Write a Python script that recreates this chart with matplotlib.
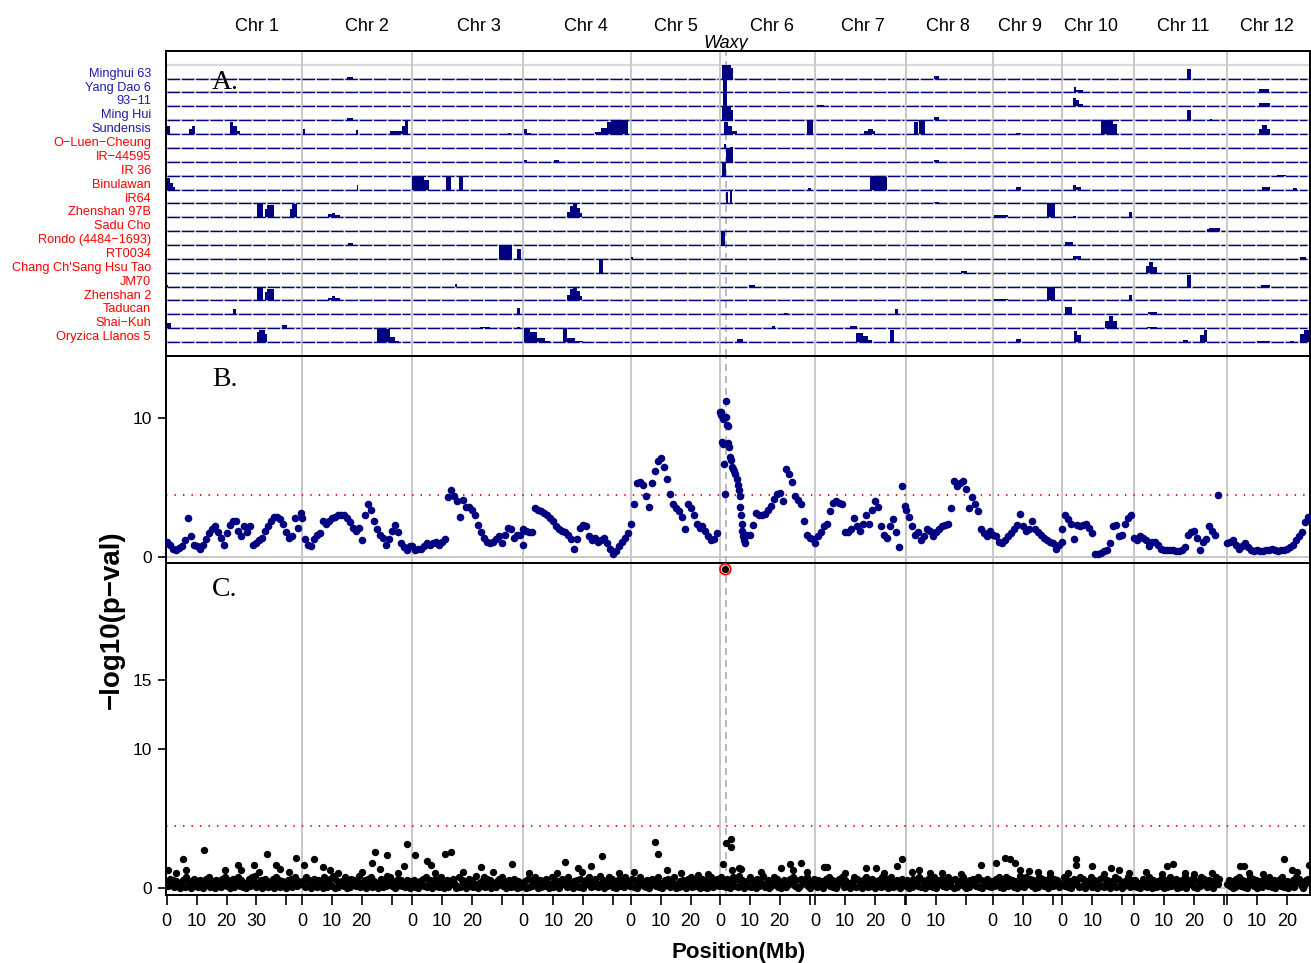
import numpy as np
import matplotlib.pyplot as plt
from matplotlib.transforms import blended_transform_factory

plt.rcParams['font.family'] = ['Liberation Sans', 'DejaVu Sans']

NAVY = '#000080'
GREY = '#c8c8c8'

# chromosome widths on the shared x axis (Mb)
chr_len = [45.2, 36.9, 37.2, 35.9, 29.8, 31.9, 30.3, 29.1, 23.3, 23.9, 31.2, 27.4]
chr_names = ['Chr %d' % (i + 1) for i in range(12)]
# where each title sits, Mb from the chromosome start (layout only)
chr_label_mb = [30.2, 21.7, 22.3, 20.9, 15.1, 17.4, 16.0, 14.1, 9.1, 9.6, 16.5, 13.4]

waxy = (6, 1.9)
threshold = 4.46

blue_lines = ['Minghui 63', 'Yang Dao 6', '93\u221211', 'Ming Hui', 'Sundensis']
red_lines = ['O\u2212Luen\u2212Cheung', 'IR\u221244595', 'IR 36', 'Binulawan', 'IR64',
             'Zhenshan 97B', 'Sadu Cho', 'Rondo (4484\u22121693)', 'RT0034',
             "Chang Ch'Sang Hsu Tao", 'JM70', 'Zhenshan 2', 'Taducan',
             'Shai\u2212Kuh', 'Oryzica Llanos 5']

# panel A: row (1 = top), chromosome, start Mb, end Mb, height (fraction of a row)
blocks = [
    (1, 2, 15.2, 17.2, 0.15), (1, 6, 0.7, 3.6, 1.0), (1, 6, 3.6, 4.3, 0.8),
    (1, 8, 9.6, 11.0, 0.2), (1, 11, 17.6, 19.1, 0.7),
    (2, 6, 1.0, 2.3, 1.0), (2, 10, 3.7, 4.6, 0.4), (2, 10, 4.6, 6.8, 0.2),
    (2, 12, 10.7, 14.1, 0.25),
    (3, 6, 1.0, 2.4, 1.0), (3, 7, 0.5, 2.8, 0.07), (3, 10, 3.6, 4.5, 0.6),
    (3, 10, 4.5, 5.5, 0.45), (3, 10, 5.5, 6.8, 0.2), (3, 12, 10.7, 14.2, 0.25),
    (4, 2, 15.2, 17.2, 0.15), (4, 6, 0.7, 3.6, 1.0), (4, 6, 3.6, 4.3, 0.75),
    (4, 8, 9.4, 11.0, 0.25), (4, 11, 17.6, 19.1, 0.75), (4, 11, 25.5, 26.0, 0.1),
    (5, 1, 0.0, 1.2, 0.6), (5, 1, 7.5, 8.3, 0.4), (5, 1, 8.3, 9.5, 0.58),
    (5, 1, 21.0, 22.3, 0.9), (5, 1, 22.3, 23.5, 0.6), (5, 1, 23.5, 24.5, 0.25),
    (5, 2, 0.3, 1.2, 0.35), (5, 2, 18.2, 18.8, 0.3), (5, 2, 29.5, 33.4, 0.2),
    (5, 2, 33.4, 34.4, 0.6), (5, 2, 34.4, 35.6, 1.0), (5, 3, 32.0, 33.0, 0.05),
    (5, 4, 0.2, 1.2, 0.4), (5, 4, 1.2, 2.5, 0.08), (5, 4, 24.0, 26.0, 0.15),
    (5, 4, 26.0, 28.0, 0.45), (5, 4, 28.0, 29.3, 0.85), (5, 4, 29.3, 35.0, 1.0),
    (5, 6, 1.5, 2.8, 0.85), (5, 6, 2.8, 4.2, 0.55), (5, 6, 4.2, 5.7, 0.2),
    (5, 6, 29.1, 31.1, 1.0), (5, 7, 16.3, 17.8, 0.25), (5, 7, 17.8, 19.2, 0.4),
    (5, 7, 19.2, 20.0, 0.2), (5, 8, 2.8, 4.0, 0.85), (5, 8, 4.5, 6.3, 1.0),
    (5, 9, 7.8, 9.3, 0.1), (5, 10, 12.9, 17.0, 1.0), (5, 10, 17.0, 18.3, 0.7),
    (5, 12, 10.7, 11.8, 0.4), (5, 12, 11.8, 13.2, 0.65), (5, 12, 13.2, 14.3, 0.4),
    (6, 6, 1.5, 2.2, 0.25), (6, 6, 3.5, 4.5, 0.05),
    (7, 4, 0.2, 1.2, 0.15), (7, 4, 10.3, 11.9, 0.15), (7, 6, 2.1, 4.3, 0.9),
    (7, 8, 9.6, 11.0, 0.1),
    (8, 6, 0.7, 2.1, 0.9), (8, 12, 16.5, 19.6, 0.08),
    (9, 1, 0.0, 1.2, 0.85), (9, 1, 1.2, 2.2, 0.5), (9, 1, 2.2, 2.8, 0.2),
    (9, 2, 18.3, 18.9, 0.3), (9, 3, 0.1, 3.8, 1.0), (9, 3, 3.8, 5.5, 0.7),
    (9, 3, 11.2, 12.9, 0.95), (9, 3, 15.5, 16.9, 0.9), (9, 6, 29.5, 30.5, 0.1),
    (9, 7, 18.4, 23.0, 1.0), (9, 7, 23.0, 24.0, 0.9), (9, 9, 7.8, 9.3, 0.15),
    (9, 10, 3.5, 4.5, 0.3), (9, 10, 4.5, 6.1, 0.15), (9, 12, 11.5, 14.2, 0.2),
    (9, 12, 22.0, 23.5, 0.1),
    (10, 6, 2.2, 2.8, 0.8), (10, 6, 3.3, 4.2, 0.9), (10, 8, 9.6, 11.0, 0.1),
    (11, 1, 30.1, 32.1, 1.0), (11, 1, 32.9, 33.5, 0.6), (11, 1, 33.5, 35.9, 0.85),
    (11, 1, 41.2, 42.0, 0.6), (11, 1, 42.0, 43.5, 0.95), (11, 2, 8.9, 10.0, 0.2),
    (11, 2, 10.0, 11.2, 0.3), (11, 2, 11.2, 12.9, 0.15), (11, 4, 14.7, 15.7, 0.4),
    (11, 4, 15.7, 16.5, 0.8), (11, 4, 16.5, 17.8, 1.0), (11, 4, 17.8, 18.8, 0.7),
    (11, 4, 18.8, 19.5, 0.3), (11, 9, 0.4, 5.2, 0.15), (11, 9, 18.2, 20.8, 1.0),
    (11, 10, 3.5, 4.5, 0.1), (11, 10, 22.3, 23.4, 0.4),
    (12, 11, 24.3, 25.0, 0.15), (12, 11, 25.0, 28.8, 0.25),
    (13, 2, 15.5, 17.2, 0.15), (13, 6, 0.4, 1.8, 0.9), (13, 10, 0.9, 3.5, 0.2),
    (14, 3, 29.1, 33.3, 1.0), (14, 3, 35.0, 36.3, 0.7), (14, 5, 0.0, 0.9, 0.1),
    (14, 10, 3.5, 6.1, 0.2), (14, 12, 24.3, 26.3, 0.15),
    (15, 4, 25.2, 26.5, 0.9), (15, 8, 18.6, 20.6, 0.15), (15, 11, 4.0, 5.0, 0.5),
    (15, 11, 5.0, 6.5, 0.75), (15, 11, 6.5, 7.6, 0.4),
    (16, 1, 0.0, 0.5, 0.1), (16, 3, 14.4, 15.0, 0.2), (16, 6, 9.6, 11.8, 0.1),
    (16, 11, 17.6, 19.1, 0.8), (16, 12, 11.3, 14.2, 0.1),
    (17, 1, 30.1, 32.1, 1.0), (17, 1, 32.9, 33.5, 0.6), (17, 1, 33.5, 35.9, 0.85),
    (17, 2, 8.9, 10.0, 0.2), (17, 2, 10.0, 11.2, 0.3), (17, 2, 11.2, 12.9, 0.15),
    (17, 4, 14.7, 15.7, 0.4), (17, 4, 15.7, 16.5, 0.8), (17, 4, 16.5, 17.8, 1.0),
    (17, 4, 17.8, 18.8, 0.7), (17, 4, 18.8, 19.5, 0.3), (17, 9, 0.4, 5.2, 0.1),
    (17, 9, 18.2, 20.8, 1.0), (17, 10, 22.3, 23.4, 0.4),
    (18, 1, 22.2, 23.2, 0.4), (18, 3, 23.7, 25.3, 0.05), (18, 3, 35.0, 36.2, 0.45),
    (18, 6, 21.3, 22.7, 0.08), (18, 7, 26.7, 27.6, 0.4), (18, 10, 0.9, 3.1, 0.5),
    (18, 11, 4.8, 7.7, 0.2),
    (19, 1, 0.0, 1.4, 0.35), (19, 1, 38.6, 40.2, 0.2), (19, 3, 22.7, 26.0, 0.1),
    (19, 3, 35.0, 36.0, 0.1), (19, 6, 17.6, 18.5, 0.15), (19, 7, 11.7, 13.9, 0.15),
    (19, 10, 14.3, 15.5, 0.5), (19, 10, 15.5, 17.0, 0.9), (19, 10, 17.0, 18.2, 0.5),
    (19, 11, 4.5, 7.7, 0.1),
    (20, 1, 30.3, 31.0, 0.7), (20, 1, 31.0, 33.0, 0.9), (20, 1, 33.0, 33.6, 0.6),
    (20, 2, 25.1, 29.5, 0.95), (20, 2, 29.5, 31.3, 0.35), (20, 2, 31.3, 32.4, 0.1),
    (20, 4, 0.2, 2.2, 1.0), (20, 4, 2.2, 4.6, 0.7), (20, 4, 4.6, 7.2, 0.3),
    (20, 4, 7.2, 8.9, 0.1), (20, 4, 13.3, 14.6, 1.0), (20, 4, 14.6, 17.2, 0.3),
    (20, 4, 17.2, 20.0, 0.08), (20, 6, 5.7, 7.9, 0.25), (20, 7, 13.7, 16.0, 0.65),
    (20, 7, 16.0, 17.5, 0.4), (20, 7, 17.5, 18.9, 0.15), (20, 7, 25.0, 26.3, 0.9),
    (20, 9, 7.8, 9.3, 0.25), (20, 10, 3.7, 4.8, 0.8), (20, 10, 4.8, 6.1, 0.5),
    (20, 11, 16.3, 18.2, 0.15), (20, 11, 22.1, 23.4, 0.5), (20, 11, 23.4, 24.6, 0.85),
    (20, 12, 9.9, 14.2, 0.1), (20, 12, 21.0, 22.5, 0.08), (20, 12, 24.5, 25.8, 0.55),
    (20, 12, 25.8, 27.4, 0.85),
]

# panel B: -log10(p) read every 1 Mb, first value at b_start Mb of each chromosome
b_start = [0, 0, 0, 0, 0, 9, 0, 0, 0, 0, 0, 0]
b_vals = [
    [1.1, 0.9, 0.6, 0.5, 0.65, 0.8, 1.2, 2.8, 1.5, 0.9, 0.8, 0.6, 0.9, 1.3, 1.7, 2.0,
     2.2, 1.8, 1.4, 0.9, 1.7, 2.3, 2.6, 2.6, 1.9, 1.5, 2.2, 1.8, 2.2, 0.9, 1.0, 1.2,
     1.4, 1.9, 2.2, 2.6, 2.9, 2.9, 2.7, 2.4, 1.8, 1.4, 1.5, 2.8, 2.1, 3.2],
    [2.8, 1.3, 0.9, 0.8, 1.3, 1.6, 1.7, 2.6, 2.4, 2.6, 2.8, 2.9, 3.0, 3.0, 3.0, 2.8,
     2.5, 2.1, 1.9, 2.1, 1.2, 3.0, 3.8, 3.4, 2.6, 2.0, 1.6, 1.4, 0.9, 1.3, 1.9, 2.3,
     1.8, 1.0, 0.7, 0.5, 0.8],
    [0.8, 0.5, 0.55, 0.6, 0.8, 1.0, 0.9, 1.0, 1.1, 0.9, 1.1, 1.3, 4.3, 4.8, 4.4, 4.0,
     2.9, 4.1, 3.6, 3.6, 3.4, 3.0, 2.3, 1.8, 1.4, 1.1, 1.0, 1.1, 1.3, 1.5, 1.0, 1.6,
     2.1, 2.0, 1.4, 1.6, 1.6, 0.9],
    [2.0, 1.9, 1.8, 1.8, 3.5, 3.4, 3.3, 3.2, 3.0, 2.8, 2.6, 2.2, 2.0, 1.9, 1.8, 1.6,
     1.3, 0.6, 1.3, 2.1, 2.3, 2.2, 1.5, 1.2, 1.4, 1.1, 1.2, 1.4, 1.0, 0.6, 0.2, 0.4,
     0.8, 1.1, 1.4, 1.7],
    [2.4, 3.8, 5.3, 5.4, 5.2, 4.4, 3.6, 5.3, 6.2, 6.9, 7.1, 6.5, 5.6, 4.5, 3.8, 3.5,
     3.3, 2.9, 2.0, 3.8, 3.5, 3.0, 2.4, 2.1, 2.2, 1.9, 1.5, 1.2, 1.3, 1.7],
    [1.6, 1.6, 2.3, 3.2, 3.0, 3.0, 3.1, 3.4, 3.7, 4.2, 4.5, 4.6, 4.0, 6.3, 6.0, 5.4,
     4.4, 4.1, 3.8, 2.6, 1.6, 1.4, 1.3],
    [1.0, 1.5, 1.8, 2.2, 2.4, 3.3, 3.9, 4.0, 3.9, 3.8, 1.8, 1.8, 2.0, 2.8, 2.2, 1.9,
     2.4, 3.0, 2.4, 3.4, 4.0, 3.6, 2.2, 1.6, 1.35, 2.2, 2.7, 1.8, 0.75, 5.1, 3.7],
    [3.4, 2.9, 2.2, 1.6, 1.8, 1.2, 1.5, 2.0, 1.9, 1.5, 1.8, 2.0, 2.2, 2.3, 2.4, 3.5,
     5.5, 5.1, 5.3, 5.5, 4.9, 3.5, 4.3, 3.8, 3.3, 2.0, 1.7, 1.5, 1.9],
    [1.6, 1.5, 1.1, 1.0, 1.2, 1.5, 1.7, 2.0, 2.3, 3.1, 2.2, 1.9, 2.0, 2.6, 2.0, 1.8,
     1.6, 1.4, 1.2, 1.1, 1.0, 0.6, 0.9, 1.1],
    [2.0, 3.0, 2.7, 2.4, 1.3, 2.3, 2.2, 2.3, 2.4, 2.1, 1.7, 0.25, 0.25, 0.3, 0.4, 0.5,
     1.0, 2.2, 2.3, 1.5, 1.6, 2.4, 2.8, 3.0],
    [1.4, 1.2, 1.5, 1.4, 1.2, 0.8, 1.1, 1.1, 0.9, 0.6, 0.5, 0.5, 0.5, 0.5, 0.4, 0.4,
     0.5, 0.7, 1.6, 1.8, 1.9, 1.4, 0.5, 1.1, 1.3, 2.2, 1.9, 1.6, 4.45],
    [1.0, 1.1, 1.2, 0.9, 0.6, 0.8, 1.0, 0.7, 0.5, 0.4, 0.5, 0.4, 0.4, 0.5, 0.5, 0.6,
     0.5, 0.4, 0.5, 0.5, 0.6, 0.7, 0.9, 1.2, 1.5, 1.8, 2.5, 2.9],
]
# the Waxy peak on chromosome 6 is denser
b_peak_mb = [0.1, 0.3, 0.5, 0.7, 0.9, 1.1, 1.3, 1.8, 2.0, 2.2, 2.4, 2.6, 2.8, 3.0,
             3.3, 3.6, 4.0, 4.4, 4.8, 5.2, 5.6, 6.0, 6.3, 6.6, 6.9, 7.1, 7.3, 7.5,
             7.8, 8.1, 8.4]
b_peak_val = [10.4, 10.2, 10.45, 8.3, 8.1, 9.9, 6.7, 4.5, 11.2, 10.1, 9.5, 8.2, 9.4,
              7.9, 7.2, 7.0, 6.5, 6.3, 6.2, 6.0, 5.6, 5.2, 4.8, 4.4, 3.6, 3.0, 2.4,
              1.9, 1.5, 1.2, 1.0]

# panel C: the low band, one digit (tenths of -log10 p) per 0.5 Mb
c_band = [
    "4273615240 3618250472 5163027481 3506241738 2604715382 6140372859 1436027514 2708361542 0637148253",
    "3518260473 1625084137 2906143528 0417362591 4260738152 4037162948 2501736241 6305",
    "2614053728 1460372518 4026153740 2816350472 6139042581 7360241573 8250461372 0514",
    "3507162483 0615274038 1625047361 8240536172 0463815274 1936052847 1305726184 52",
    "2716048352 1604735281 4026371548 0315264073 8162450371 6042815372",
    "4825173068 2719460352 8164072539 1460258371 4026153748 2601735482 0537",
    "3162504738 2615037481 6240358172 4063815274 0536182470 3815264073",
    "2604173528 1640372518 0463725184 2607135482 0516374281 60347251",
    "5273816048 2736150492 6183572604 1837265094 273614",
    "3826150473 6182704538 1650372814 6205381764 02538162",
    "2614037251 8406315274 0613825470 3162804537 1605284731 62504837",
    "3625017482 6150384726 0531647284 1605372814 5032618475 20367",
]
# panel C points above the band: chromosome, Mb, -log10 p
c_hits = [
    (1, 0.5, 1.3), (1, 3.0, 1.1), (1, 5.3, 2.1), (1, 6.5, 1.3), (1, 12.6, 2.75),
    (1, 19.5, 1.3), (1, 23.9, 1.7), (1, 25.0, 1.3), (1, 29.1, 1.7), (1, 31.0, 1.2),
    (1, 33.4, 2.5), (1, 36.5, 1.7), (1, 38.0, 1.4), (1, 41.0, 1.2), (1, 43.4, 2.2),
    (2, 0.8, 1.7), (2, 4.2, 2.1), (2, 7.2, 1.55), (2, 9.5, 1.3), (2, 12.0, 1.1),
    (2, 20.0, 1.2), (2, 23.3, 1.85), (2, 24.6, 2.6), (2, 26.0, 1.4), (2, 28.5, 2.4),
    (2, 32.0, 1.1), (2, 34.0, 1.6), (2, 35.1, 3.2),
    (3, 1.1, 2.4), (3, 5.1, 1.95), (3, 6.2, 1.7), (3, 7.7, 1.1), (3, 10.9, 2.5),
    (3, 13.1, 2.6), (3, 17.0, 1.2), (3, 22.9, 1.5), (3, 27.1, 1.2), (3, 33.4, 1.75),
    (4, 2.0, 1.1), (4, 11.4, 1.1), (4, 14.0, 1.9), (4, 18.2, 1.45), (4, 19.5, 1.2),
    (4, 22.7, 1.6), (4, 26.4, 2.3), (4, 32.0, 1.1),
    (5, 1.0, 1.2), (5, 8.0, 3.3), (5, 9.0, 2.5), (5, 12.2, 1.3), (5, 16.7, 1.1),
    (5, 22.6, 0.95), (5, 26.0, 1.0),
    (6, 1.2, 1.75), (6, 1.9, 3.26), (6, 3.6, 3.57), (6, 3.6, 2.97), (6, 4.0, 1.3),
    (6, 6.5, 1.45), (6, 7.0, 1.4), (6, 13.7, 1.2), (6, 20.4, 1.45), (6, 23.4, 1.75),
    (6, 24.5, 1.3), (6, 27.3, 1.8), (6, 29.0, 1.2),
    (7, 3.0, 1.5), (7, 4.0, 1.5), (7, 10.0, 1.1), (7, 16.9, 1.45), (7, 20.2, 1.45),
    (7, 23.0, 1.1), (7, 27.3, 1.6), (7, 28.9, 2.1),
    (8, 2.0, 1.2), (8, 4.5, 1.3), (8, 8.0, 1.1), (8, 12.0, 1.1), (8, 18.5, 1.0),
    (8, 25.0, 1.7),
    (9, 1.2, 1.8), (9, 4.2, 2.2), (9, 5.9, 2.1), (9, 7.3, 1.85), (9, 9.0, 1.3),
    (9, 12.0, 1.25), (9, 15.0, 1.2), (9, 19.0, 1.1),
    (10, 2.0, 1.1), (10, 4.6, 2.1), (10, 4.6, 1.7), (10, 9.8, 1.6), (10, 14.0, 1.0),
    (10, 16.3, 1.45), (10, 18.9, 1.35), (10, 22.1, 1.1),
    (11, 4.2, 1.2), (11, 9.5, 1.0), (11, 11.1, 1.6), (11, 13.1, 1.75), (11, 17.0, 1.1),
    (11, 20.0, 1.0), (11, 26.0, 1.1),
    (12, 4.2, 1.6), (12, 5.5, 1.6), (12, 7.2, 1.1), (12, 12.0, 1.0), (12, 19.1, 2.1),
    (12, 21.7, 1.35), (12, 23.5, 1.2), (12, 27.2, 1.7),
]
c_top = (6, 1.85, 22.95)

offset = np.concatenate([[0.0], np.cumsum(chr_len)[:-1]])
total = float(np.sum(chr_len))


def gpos(c, mb):
    return offset[c - 1] + mb


W, H = 1311.0, 963.0
fig = plt.figure(figsize=(W / 100, H / 100), dpi=100)


def box(top, bottom):
    return [166 / W, 1 - bottom / H, 1144 / W, (bottom - top) / H]


ax_a = fig.add_axes(box(51.3, 356))
ax_b = fig.add_axes(box(356, 563))
ax_c = fig.add_axes(box(563, 895))

for ax in (ax_a, ax_b, ax_c):
    ax.set_xlim(-0.25, total + 0.3)
    for sp in ax.spines.values():
        sp.set_linewidth(1.4)
    for o in offset[1:]:
        ax.axvline(o, color=GREY, lw=1.4, zorder=1.5)
    ax.axvline(gpos(*waxy), color='#b0b0b0', lw=1.2, ls=(0, (4.2, 3.0)), zorder=1.6)

# ---- panel A
ax_a.set_ylim(-1.01, 20.97)
ax_a.set_xticks([])
ax_a.set_yticks([])
for y in range(21):
    ax_a.axhline(y, color='#d8d8d8', lw=1.6, zorder=1)
seg_y, seg_x0, seg_x1 = [], [], []
for y in range(20):
    for c in range(12):
        seg_y.append(y)
        seg_x0.append(offset[c] + 0.2)
        seg_x1.append(offset[c] + chr_len[c] - 0.6)
ax_a.hlines(seg_y, seg_x0, seg_x1, colors=NAVY, lw=1.0, linestyles=(0, (9, 1.3)), zorder=2)

bx = [gpos(c, s) for r, c, s, e, h in blocks]
bw = [e - s for r, c, s, e, h in blocks]
bb = [20 - r for r, c, s, e, h in blocks]
bh = [h for r, c, s, e, h in blocks]
ax_a.bar(bx, bh, width=bw, bottom=bb, align='edge', color=NAVY, linewidth=0, zorder=3)

lab_tr = blended_transform_factory(fig.transFigure, ax_a.transData)
for i, name in enumerate(blue_lines + red_lines):
    col = '#1c1ca8' if i < len(blue_lines) else '#ff0000'
    ax_a.text(151 / W, 19.35 - i, name, transform=lab_tr, ha='right', va='center',
              fontsize=9.2, color=col)

top_tr = blended_transform_factory(ax_a.transData, ax_a.transAxes)
for c in range(12):
    ax_a.text(offset[c] + chr_label_mb[c], 1.082, chr_names[c], transform=top_tr,
              ha='center', va='center', fontsize=13)
ax_a.text(gpos(*waxy), 1.026, 'Waxy', transform=top_tr, ha='center', va='center',
          fontsize=13, style='italic')

# ---- panel B
ax_b.set_ylim(-0.43, 14.46)
ax_b.set_xticks([])
ax_b.set_yticks([0, 10])
ax_b.axhline(0, color=GREY, lw=1.4, zorder=1)
ax_b.axhline(threshold, color='red', lw=1.3, ls=(0, (0.8, 3.9)), zorder=2)
xb, yb = [], []
for c in range(12):
    xb += list(offset[c] + b_start[c] + np.arange(len(b_vals[c])))
    yb += b_vals[c]
xb += [gpos(6, m) for m in b_peak_mb]
yb += b_peak_val
ax_b.scatter(xb, yb, s=30, color=NAVY, linewidths=0, zorder=3)

# ---- panel C
ax_c.set_ylim(-0.48, 23.4)
ax_c.set_yticks([0, 10, 15])
ax_c.axhline(0, color=GREY, lw=1.4, zorder=1)
ax_c.axhline(threshold, color='red', lw=1.3, ls=(0, (0.8, 3.9)), zorder=2)
xc, yc = [], []
for c, s in enumerate(c_band):
    v = [int(ch) / 10 for ch in s.replace(' ', '')]
    xc += list(offset[c] + 0.5 * np.arange(len(v)))
    yc += v
xc += [gpos(c, m) for c, m, v in c_hits] + [gpos(c_top[0], c_top[1])]
yc += [v for c, m, v in c_hits] + [c_top[2]]
ax_c.scatter(xc, yc, s=28, color='black', linewidths=0, zorder=3)
ax_c.scatter([gpos(c_top[0], c_top[1])], [c_top[2]], s=60, facecolors='none',
             edgecolors='red', linewidths=1.3, zorder=4)

ticks, labels = [], []
for c in range(12):
    for t in range(0, int(chr_len[c]) + 1, 10):
        if t >= chr_len[c]:
            continue
        ticks.append(offset[c] + t)
        show = t == 0 or chr_len[c] - t > 9.5 or c == 11
        labels.append(str(t) if show else '')
ax_c.set_xticks(ticks, labels)
ax_c.tick_params(axis='x', length=7, width=1.2, pad=6, labelsize=13)
for ax in (ax_b, ax_c):
    ax.tick_params(axis='y', length=6, width=1.2, pad=4, labelsize=12.5)

for ax, lab, fy in ((ax_a, 'A.', 0.897), (ax_b, 'B.', 0.885), (ax_c, 'C.', 0.92)):
    ax.text(0.0516, fy, lab, transform=ax.transAxes, ha='center', va='center',
            fontsize=20, family='Liberation Serif')

fig.text(112 / W, 1 - 620 / H, '\u2212log10(p\u2212val)', rotation=90, ha='center',
         va='center', fontsize=20, weight='bold')
fig.text(739 / W, 1 - 952 / H, 'Position(Mb)', ha='center', va='center',
         fontsize=16, weight='bold')

fig.savefig('out.png', dpi=100)
